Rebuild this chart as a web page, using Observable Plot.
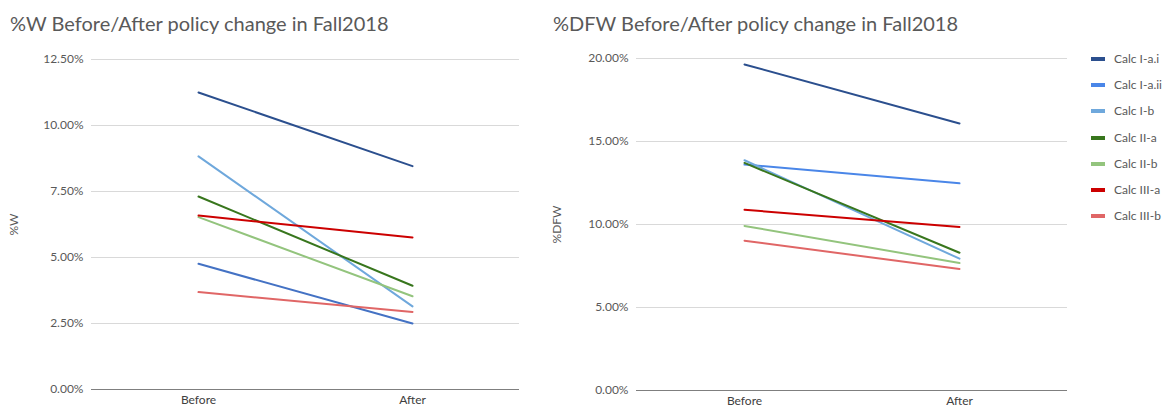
<!DOCTYPE html>
<html>
<head>
<meta charset="utf-8">
<script src="https://cdn.jsdelivr.net/npm/d3@7"></script>
<script src="https://cdn.jsdelivr.net/npm/@observablehq/plot@0.6"></script>
<style>
  body { margin: 0; background: #fff; }
  #wrap { position: relative; width: 1165px; height: 409px; font-family: Lato, "Open Sans", sans-serif; color: #595959; overflow: hidden; }
  .title { position: absolute; font-size: 20px; line-height: 20px; white-space: nowrap; color: #595959; }
  .chart { position: absolute; top: 0; }
  #legend { position: absolute; left: 1091px; top: 52px; font-size: 12px; }
  .item { position: absolute; left: 0; height: 14px; white-space: nowrap; }
  .sw { position: absolute; left: 0; top: 5px; width: 14px; height: 4px; }
  .lab { position: absolute; left: 23px; top: 0; line-height: 14px; }
</style>
</head>
<body>
<div id="wrap">
  <div class="title" id="t1" style="left:10px; top:13px;"></div>
  <div class="title" id="t2" style="left:553px; top:13px;"></div>
  <div class="chart" id="c1" style="left:0px;"></div>
  <div class="chart" id="c2" style="left:540px;"></div>
  <div id="legend"></div>
</div>
<script>
const courses = ["Calc I-a.i", "Calc I-a.ii", "Calc I-b", "Calc II-a", "Calc II-b", "Calc III-a", "Calc III-b"];
const periods = ["Before", "After"];
const wBefore = [11.25, 4.76, 8.83, 7.31, 6.53, 6.59, 3.69];
const wAfter  = [8.46, 2.50, 3.15, 3.93, 3.53, 5.76, 2.94];
const dfwBefore = [19.64, 13.61, 13.87, 13.71, 9.91, 10.89, 9.02];
const dfwAfter  = [16.08, 12.48, 7.94, 8.30, 7.68, 9.85, 7.32];
const wTicks = [0, 2.5, 5, 7.5, 10, 12.5];
const dfwTicks = [0, 5, 10, 15, 20];
const titleW = "%W Before/After policy change in Fall2018";
const titleDFW = "%DFW Before/After policy change in Fall2018";

const colorsLeft  = ["#2b4f8e", "#4472c4", "#6fa8dc", "#38761d", "#93c47d", "#cc0000", "#e06666"];
const colorsRight = ["#2b4f8e", "#4a86e8", "#6fa8dc", "#38761d", "#93c47d", "#cc0000", "#e06666"];

function rows(before, after) {
  const out = [];
  courses.forEach((c, i) => {
    out.push({course: c, period: periods[0], value: before[i]});
    out.push({course: c, period: periods[1], value: after[i]});
  });
  return out;
}

function makeChart(data, ticks, label, colors, opts) {
  const fmt = d => d.toFixed(2) + "%";
  return Plot.plot({
    width: 540,
    height: 409,
    marginLeft: opts.ml,
    marginRight: opts.mr,
    marginTop: opts.mt,
    marginBottom: opts.mb,
    style: {fontFamily: "Lato, 'Open Sans', sans-serif", fontSize: "12px", color: "#595959", background: "transparent"},
    x: {type: "point", domain: periods, padding: 0.5},
    y: {domain: [0, ticks[ticks.length - 1]]},
    color: {domain: courses, range: colors},
    marks: [
      Plot.gridY(ticks.filter(t => t > 0), {stroke: "#d9d9d9", strokeOpacity: 1, strokeWidth: 1}),
      Plot.ruleY([0], {stroke: "#7f7f7f", strokeWidth: 1}),
      Plot.axisY({ticks: ticks, tickSize: 0, tickPadding: 8, tickFormat: fmt, fontSize: 12, label: label, labelAnchor: "center", labelArrow: "none", labelOffset: opts.lo}),
      Plot.axisX({tickSize: 0, tickPadding: 6, fontSize: 12, label: null, color: "#404040"}),
      Plot.line(data, {x: "period", y: "value", z: "course", stroke: "course", strokeWidth: 2})
    ]
  });
}

document.getElementById("t1").textContent = titleW;
document.getElementById("t2").textContent = titleDFW;

document.getElementById("c1").appendChild(
  makeChart(rows(wBefore, wAfter), wTicks, "%W", colorsLeft, {ml: 91, mr: 21, mt: 59, mb: 20, lo: 82})
);
document.getElementById("c2").appendChild(
  makeChart(rows(dfwBefore, dfwAfter), dfwTicks, "%DFW", colorsRight, {ml: 96, mr: 13, mt: 58, mb: 19, lo: 84})
);

const legend = document.getElementById("legend");
courses.forEach((c, i) => {
  const it = document.createElement("div");
  it.className = "item";
  it.style.top = (i * 26.2) + "px";
  const sw = document.createElement("div");
  sw.className = "sw";
  sw.style.background = colorsRight[i];
  const lab = document.createElement("div");
  lab.className = "lab";
  lab.textContent = c;
  it.appendChild(sw);
  it.appendChild(lab);
  legend.appendChild(it);
});
</script>
</body>
</html>
